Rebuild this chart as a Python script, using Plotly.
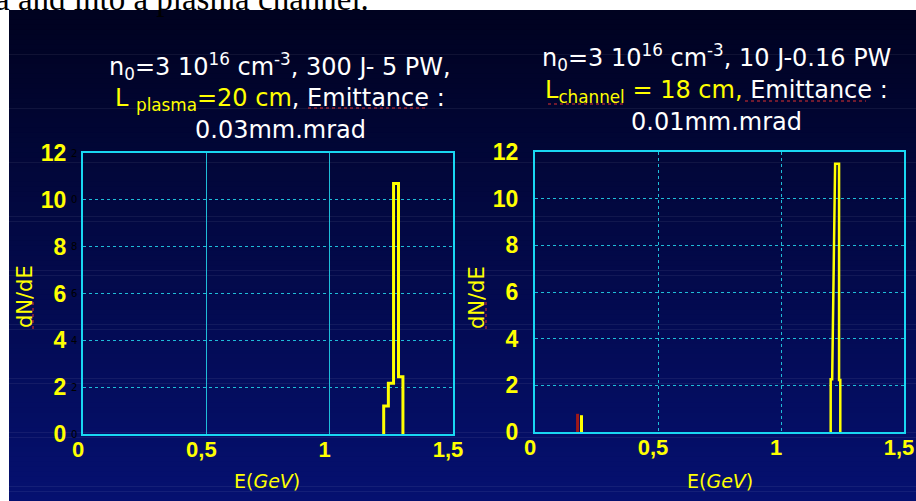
import plotly.graph_objects as go

# ---------------- data ----------------
# left panel: step histogram (bin edges in GeV, dN/dE per bin)
left_edges = [1.219, 1.238, 1.259, 1.279, 1.297]
left_values = [1.2, 2.17, 10.7, 2.45]

# right panel: narrow spike (polyline points)
right_E = [1.202, 1.202, 1.208, 1.220, 1.236, 1.236, 1.241, 1.241]
right_dNdE = [0, 2.26, 2.26, 11.5, 11.5, 2.23, 2.23, 0]

# right panel: small low-energy marks
red_E = [0.173, 0.173]
red_dNdE = [0, 0.78]
small_E = [0.189, 0.189]
small_dNdE = [0, 0.72]

y_ticks = [0, 2, 4, 6, 8, 10, 12]
x_ticks = [0, 0.5, 1, 1.5]

W, H = 916, 501
def px(x):
    return x / W
def py(y):
    return 1 - y / H

YEL = "#ffff00"
CYAN = "#19d7f2"
GRID = "#1fbcd8"
FONT = "DejaVu Sans"
TICKFONT = "Liberation Sans"

fig = go.Figure()

# left step histogram
lx = [left_edges[0]] + left_edges
ly = [0] + left_values + [0]
fig.add_trace(go.Scatter(x=lx, y=ly, mode="lines", line=dict(color=YEL, width=3, shape="hv"),
                         xaxis="x", yaxis="y", showlegend=False, hoverinfo="skip"))
# right spike
fig.add_trace(go.Scatter(x=red_E, y=red_dNdE, mode="lines", line=dict(color="#a01818", width=3),
                         xaxis="x2", yaxis="y2", showlegend=False, hoverinfo="skip"))
fig.add_trace(go.Scatter(x=small_E, y=small_dNdE, mode="lines", line=dict(color=YEL, width=3),
                         xaxis="x2", yaxis="y2", showlegend=False, hoverinfo="skip"))
fig.add_trace(go.Scatter(x=right_E, y=right_dNdE, mode="lines", line=dict(color=YEL, width=2.5),
                         xaxis="x2", yaxis="y2", showlegend=False, hoverinfo="skip"))

def xaxis(domain, anchor, vdash):
    return dict(domain=domain, anchor=anchor, range=[0, 1.5], tickvals=x_ticks,
                showline=True, mirror=True, linecolor=CYAN, linewidth=2,
                showgrid=True, gridcolor=GRID, gridwidth=1, griddash=vdash,
                zeroline=False, ticks="", ticklabelstandoff=-5, ticklabelshift=-5,
                automargin=False, ticklabeloverflow="allow",
                tickfont=dict(family=TICKFONT, size=22, color=YEL, weight="bold"), fixedrange=True)

def yaxis(domain, anchor):
    return dict(domain=domain, anchor=anchor, range=[0, 12], tickvals=y_ticks,
                showline=True, mirror=True, linecolor=CYAN, linewidth=2,
                showgrid=True, gridcolor=GRID, gridwidth=1, griddash="dot",
                zeroline=False, ticks="", ticklabelstandoff=10, automargin=False,
                ticklabeloverflow="allow",
                tickfont=dict(family=TICKFONT, size=23, color=YEL, weight="bold"), fixedrange=True)

# background: white page, dark-blue gradient panel
shapes = []
top, bot = 10, H
n = 100
c0 = (0, 2, 32)
c1 = (5, 16, 112)
for i in range(n):
    t = i / (n - 1)
    col = tuple(int(round(c0[k] + (c1[k] - c0[k]) * t)) for k in range(3))
    y0 = top + (bot - top) * i / n
    y1 = top + (bot - top) * (i + 1) / n + 0.6
    shapes.append(dict(type="rect", xref="paper", yref="paper", x0=px(9), x1=1.0,
                       y0=py(min(y1, H)), y1=py(y0), fillcolor="rgb(%d,%d,%d)" % col,
                       line=dict(width=0), layer="below"))

# red spell-check squiggles under some words
squig = [((308, 108), (425, 108)), ((548, 104), (625, 104)), ((745, 101), (866, 101)),
         ((33, 302), (33, 330)), ((486, 302), (486, 330))]
for (xa, ya), (xb, yb) in squig:
    shapes.append(dict(type="line", xref="paper", yref="paper", x0=px(xa), x1=px(xb),
                       y0=py(ya), y1=py(yb), line=dict(color="#e03030", width=1, dash="dot"),
                       layer="above"))

ann = []
# cut-off slide text at the very top
ann.append(dict(text="a and into a plasma channel.", x=px(-7), y=py(19), xref="paper", yref="paper",
                xanchor="left", yanchor="bottom", showarrow=False,
                font=dict(family="Liberation Serif", size=33, color="black")))

W_ = "#ffffff"
def span(t, c):
    return "<span style='color:%s'>%s</span>" % (c, t)

titles = [
    (280, 66, "n<sub>0</sub>=3 10<sup>16</sup> cm<sup>-3</sup>, 300 J- 5 PW,"),
    (280, 99, span("L <sub>plasma</sub>=20 cm", YEL) + ", Emittance :"),
    (280, 130, "0.03mm.mrad"),
    (716, 58, "n<sub>0</sub>=3 10<sup>16</sup> cm<sup>-3</sup>, 10 J-0.16 PW"),
    (716, 92, span("L<sub>channel</sub> = 18 cm,", YEL) + " Emittance :"),
    (716, 122, "0.01mm.mrad"),
]
for x, y, t in titles:
    ann.append(dict(text=t, x=px(x), y=py(y), xref="paper", yref="paper",
                    xanchor="center", yanchor="middle", showarrow=False,
                    font=dict(family=FONT, size=24, color=W_)))

# axis titles
for x, y in [(25, 297), (477, 297)]:
    ann.append(dict(text="dN/dE", x=px(x), y=py(y), xref="paper", yref="paper", textangle=-90,
                    xanchor="center", yanchor="middle", showarrow=False,
                    font=dict(family=FONT, size=21, color=YEL)))
for x, y in [(267, 481), (720, 481)]:
    ann.append(dict(text="E(<i>GeV</i>)", x=px(x), y=py(y), xref="paper", yref="paper",
                    xanchor="center", yanchor="middle", showarrow=False,
                    font=dict(family=FONT, size=19, color=YEL)))

# faint duplicate tick digits on the left panel
for v in y_ticks:
    ann.append(dict(text=str(v)[-1], x=px(69), y=v, xref="paper", yref="y",
                    xanchor="left", yanchor="middle", showarrow=False,
                    font=dict(family=FONT, size=10, color="black")))

fig.update_layout(
    width=W, height=H, margin=dict(l=0, r=0, t=0, b=0, autoexpand=False),
    paper_bgcolor="white", plot_bgcolor="rgba(0,0,0,0)",
    separators=",.",
    xaxis=xaxis([px(83), px(453)], "y", "solid"),
    yaxis=yaxis([py(434), py(153)], "x"),
    xaxis2=xaxis([px(535), px(904)], "y2", "dot"),
    yaxis2=yaxis([py(432), py(152)], "x2"),
    shapes=shapes, annotations=ann,
)

fig.write_html("out.html")
